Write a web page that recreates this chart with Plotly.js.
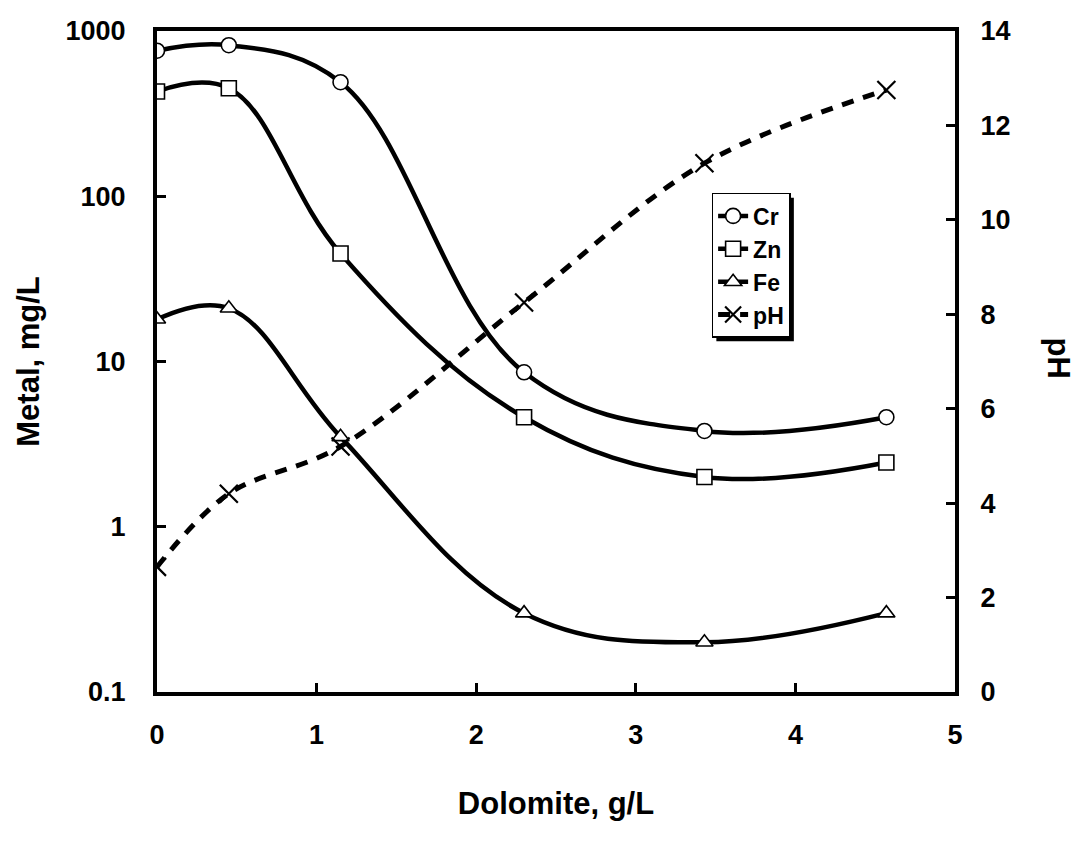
<!DOCTYPE html>
<html>
<head>
<meta charset="utf-8">
<script src="https://cdn.plot.ly/plotly-3.0.1.min.js"></script>
<style>
  html, body { margin: 0; padding: 0; background: #fff; }
  #chart { width: 1082px; height: 854px; }
</style>
</head>
<body>
<div id="chart"></div>
<script>
// Dolomite dose, g/L
const dolomite = [0, 0.45, 1.15, 2.3, 3.43, 4.57];
// Dissolved metal concentrations, mg/L
const cr = [760, 820, 490, 8.6, 3.8, 4.6];
const zn = [430, 450, 45, 4.6, 2.0, 2.45];
const fe = [18, 21, 3.5, 0.3, 0.2, 0.3];
// Solution pH
const ph = [2.65, 4.2, 5.2, 8.25, 11.2, 12.75];

const metalTicks = [0.1, 1, 10, 100, 1000];
const metalTickText = ['0.1', '1', '10', '100', '1000'];
const phTicks = [0, 2, 4, 6, 8, 10, 12, 14];
const doseTicks = [0, 1, 2, 3, 4, 5];

const FONT = 'Liberation Sans, Arial, Helvetica, sans-serif';
const lineW = 4.5;

function metalTrace(name, y, symbol) {
  return {
    x: dolomite, y: y, name: name, type: 'scatter', mode: 'lines+markers',
    line: { color: '#000', width: lineW, shape: 'spline', smoothing: 1.1 },
    marker: { symbol: symbol, size: 15, color: '#fff', line: { color: '#000', width: 1.6 } },
    yaxis: 'y'
  };
}

const traces = [
  metalTrace('Cr', cr, 'circle'),
  metalTrace('Zn', zn, 'square'),
  metalTrace('Fe', fe, 'triangle-up'),
  {
    x: dolomite, y: ph, name: 'pH', type: 'scatter', mode: 'lines+markers',
    line: { color: '#000', width: 5, dash: '12px,10px', shape: 'spline', smoothing: 1.0 },
    marker: { symbol: 'x-thin', size: 18, color: '#000', line: { color: '#000', width: 2.2 } },
    yaxis: 'y2'
  }
];

const axisFont = { family: FONT, size: 27, color: '#000', weight: 'bold' };
const titleFont = { family: FONT, size: 31, color: '#000', weight: 'bold' };

const layout = {
  width: 1082, height: 854,
  margin: { l: 157, r: 127, t: 31, b: 162 },
  paper_bgcolor: '#fff', plot_bgcolor: '#fff',
  showlegend: true,
  legend: {
    x: 0.695, y: 0.755, xanchor: 'left', yanchor: 'top',
    bgcolor: '#fff', bordercolor: '#000', borderwidth: 1.5,
    font: { family: FONT, size: 23, color: '#000', weight: 'bold' },
    itemwidth: 30, tracegroupgap: 0
  },
  xaxis: {
    range: [0, 5], tickvals: doseTicks, ticktext: doseTicks.map(String),
    showgrid: false, zeroline: false,
    showline: true, linecolor: '#000', linewidth: 4, mirror: true,
    ticks: 'inside', ticklen: 9, tickwidth: 3, tickcolor: '#000',
    tickfont: axisFont, ticklabelstandoff: 16,
    title: { text: 'Dolomite, g/L', font: titleFont, standoff: 44 }
  },
  yaxis: {
    type: 'log', range: [-1, 3],
    tickvals: metalTicks, ticktext: metalTickText,
    showgrid: false, zeroline: false,
    showline: true, linecolor: '#000', linewidth: 4,
    ticks: 'inside', ticklen: 9, tickwidth: 3, tickcolor: '#000',
    tickfont: axisFont, ticklabelstandoff: 22,
    title: { text: 'Metal, mg/L', font: titleFont, standoff: 18 }
  },
  yaxis2: {
    overlaying: 'y', side: 'right', range: [0, 14],
    tickvals: phTicks, ticktext: phTicks.map(String),
    showgrid: false, zeroline: false,
    showline: true, linecolor: '#000', linewidth: 4,
    ticks: 'inside', ticklen: 9, tickwidth: 3, tickcolor: '#000',
    tickfont: axisFont, ticklabelstandoff: 16
  },
  annotations: [{
    text: 'pH', textangle: 90, showarrow: false,
    xref: 'paper', yref: 'paper', x: 1.13, y: 0.505, xanchor: 'center', yanchor: 'middle',
    font: titleFont
  }]
};

const gd = document.getElementById('chart');
Plotly.newPlot(gd, traces, layout, { displayModeBar: false, staticPlot: true }).then(function () {
  // Offset drop shadow sized from the rendered legend box
  const bg = gd.querySelector('.legend .bg');
  if (!bg) return;
  const box = bg.getBoundingClientRect();
  const host = gd.getBoundingClientRect();
  const fl = gd._fullLayout;
  const m = fl.margin, pw = fl.width - m.l - m.r, ph_ = fl.height - m.t - m.b;
  const off = 4;
  const toX = px => (px - host.left - m.l) / pw;
  const toY = py => 1 - (py - host.top - m.t) / ph_;
  return Plotly.relayout(gd, {
    shapes: [{
      type: 'rect', xref: 'paper', yref: 'paper', layer: 'below',
      x0: toX(box.left + off), x1: toX(box.right + off),
      y0: toY(box.bottom + off), y1: toY(box.top + off),
      fillcolor: '#000', line: { width: 0 }
    }]
  });
});
</script>
</body>
</html>
